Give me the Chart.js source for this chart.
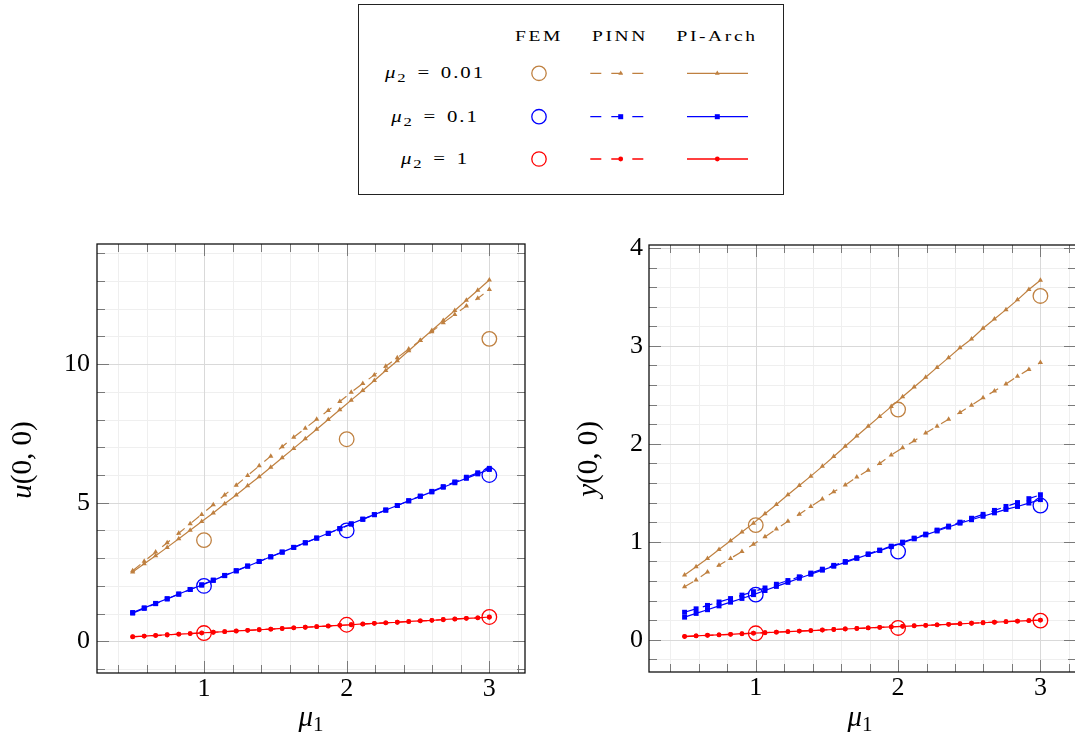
<!DOCTYPE html>
<html>
<head>
<meta charset="utf-8">
<script src="https://cdn.jsdelivr.net/npm/chart.js@4.4.1/dist/chart.umd.min.js"></script>
<style>
  html, body { margin: 0; padding: 0; background: #fff; }
  body { width: 1075px; height: 740px; overflow: hidden; position: relative; }
  canvas { position: absolute; }
  #cu { left: 0; top: 230px; }
  #cy { left: 555px; top: 230px; }
  #legend { position: absolute; left: 358px; top: 4px; width: 426px; height: 191px;
            box-sizing: border-box; border: 1px solid #222; background: #fff;
            font-family: 'Liberation Serif', serif; color: #000; }
  #legend svg { position: absolute; left: 0; top: 0; }
  .t { position: absolute; white-space: nowrap; line-height: 1;
       transform: translate(-50%, -50%) scaleX(1.3); }
  .hd { font-size: 15px; letter-spacing: 2px; }
  .row { font-size: 16px; letter-spacing: 1.5px; word-spacing: 2px; }
  .row i { font-style: italic; }
  .row sub { font-size: 80%; vertical-align: -0.3em; line-height: 0; }
</style>
</head>
<body>
<div id="legend">
  <svg width="424" height="189" viewBox="0 0 424 189">
    <!-- FEM -->
    <circle cx="180" cy="68.3" r="7.2" fill="none" stroke="#bf8040" stroke-width="1.3"/>
    <circle cx="180" cy="111.7" r="7.2" fill="none" stroke="#0000ff" stroke-width="1.3"/>
    <circle cx="180" cy="154" r="7.2" fill="none" stroke="#ff0000" stroke-width="1.3"/>
    <!-- PINN -->
    <line x1="231.3" y1="68.3" x2="284.7" y2="68.3" stroke="#bf8040" stroke-width="1.3" stroke-dasharray="11 10"/>
    <polygon points="261.7,65.5 264.1,69.7 259.3,69.7" fill="#bf8040"/>
    <line x1="231.3" y1="111.7" x2="284.7" y2="111.7" stroke="#0000ff" stroke-width="1.3" stroke-dasharray="11 10"/>
    <rect x="259.2" y="109.2" width="5" height="5" fill="#0000ff"/>
    <line x1="231.3" y1="154" x2="284.7" y2="154" stroke="#ff0000" stroke-width="1.3" stroke-dasharray="11 10"/>
    <circle cx="261.7" cy="154" r="2.4" fill="#ff0000"/>
    <!-- PI-Arch -->
    <line x1="328" y1="68.3" x2="389" y2="68.3" stroke="#bf8040" stroke-width="1.3"/>
    <polygon points="358.3,65.5 360.7,69.7 355.9,69.7" fill="#bf8040"/>
    <line x1="328" y1="111.7" x2="389" y2="111.7" stroke="#0000ff" stroke-width="1.3"/>
    <rect x="355.8" y="109.2" width="5" height="5" fill="#0000ff"/>
    <line x1="328" y1="154" x2="389" y2="154" stroke="#ff0000" stroke-width="1.3"/>
    <circle cx="358.3" cy="154" r="2.4" fill="#ff0000"/>
  </svg>
  <span class="t hd" style="left:180px; top:31px">FEM</span>
  <span class="t hd" style="left:260.7px; top:31px">PINN</span>
  <span class="t hd" style="left:358.3px; top:31px">PI-Arch</span>
  <span class="t row" style="left:75.5px; top:68.3px"><i>μ</i><sub>2</sub> = 0.01</span>
  <span class="t row" style="left:75.5px; top:111.7px"><i>μ</i><sub>2</sub> = 0.1</span>
  <span class="t row" style="left:75.5px; top:154px"><i>μ</i><sub>2</sub> = 1</span>
</div>

<canvas id="cu" width="545" height="510"></canvas>
<canvas id="cy" width="530" height="510"></canvas>

<script>
// ---- sample points in mu_1 ----
const MU1 = [0.5, 0.581, 0.661, 0.742, 0.823, 0.903, 0.984, 1.065, 1.145, 1.226, 1.306,
             1.387, 1.468, 1.548, 1.629, 1.710, 1.790, 1.871, 1.952, 2.032, 2.113, 2.194,
             2.274, 2.355, 2.435, 2.516, 2.597, 2.677, 2.758, 2.839, 2.919, 3.0];
const FEM_MU1 = [1, 2, 3];

// ---- u(0,0) ----
const U_FEM_001 = [3.65, 7.29, 10.91];
const U_FEM_01  = [2.00, 4.00, 6.00];
const U_FEM_1   = [0.30, 0.60, 0.88];
const U_PINN_001 = [2.55, 2.89, 3.22, 3.56, 3.90, 4.24, 4.58, 4.93, 5.28, 5.63, 5.98, 6.33,
                    6.68, 7.02, 7.36, 7.69, 8.01, 8.33, 8.65, 8.98, 9.30, 9.61, 9.92, 10.23,
                    10.54, 10.85, 11.17, 11.49, 11.79, 12.09, 12.37, 12.69];
const U_ARCH_001 = [2.50, 2.80, 3.09, 3.39, 3.70, 4.01, 4.32, 4.63, 4.96, 5.28, 5.61, 5.94,
                    6.28, 6.62, 6.96, 7.31, 7.65, 8.00, 8.35, 8.70, 9.05, 9.41, 9.77, 10.12,
                    10.48, 10.85, 11.21, 11.57, 11.93, 12.30, 12.66, 13.03];
const U_PINN_01 = [1.02, 1.19, 1.36, 1.53, 1.70, 1.87, 2.04, 2.21, 2.38, 2.55, 2.72, 2.88,
                   3.05, 3.22, 3.39, 3.55, 3.72, 3.89, 4.06, 4.23, 4.40, 4.57, 4.73, 4.90,
                   5.07, 5.24, 5.41, 5.58, 5.75, 5.92, 6.08, 6.24];
const U_ARCH_01 = [1.04, 1.21, 1.37, 1.54, 1.71, 1.87, 2.03, 2.20, 2.37, 2.54, 2.71, 2.88,
                   3.05, 3.22, 3.39, 3.56, 3.73, 3.90, 4.07, 4.24, 4.41, 4.57, 4.74, 4.90,
                   5.07, 5.23, 5.39, 5.56, 5.72, 5.88, 6.04, 6.20];
const U_PINN_1 = [0.16, 0.19, 0.21, 0.23, 0.26, 0.28, 0.30, 0.33, 0.35, 0.37, 0.40, 0.42,
                  0.44, 0.46, 0.49, 0.51, 0.53, 0.55, 0.58, 0.60, 0.62, 0.65, 0.67, 0.69,
                  0.71, 0.74, 0.76, 0.78, 0.80, 0.83, 0.85, 0.87];
const U_ARCH_1 = [0.17, 0.19, 0.22, 0.24, 0.26, 0.28, 0.31, 0.33, 0.35, 0.38, 0.40, 0.42,
                  0.44, 0.47, 0.49, 0.51, 0.53, 0.56, 0.58, 0.60, 0.63, 0.65, 0.67, 0.69,
                  0.72, 0.74, 0.76, 0.79, 0.81, 0.83, 0.85, 0.88];

// ---- y(0,0) ----
const Y_FEM_001 = [1.17, 2.35, 3.51];
const Y_FEM_01  = [0.46, 0.90, 1.37];
const Y_FEM_1   = [0.065, 0.12, 0.195];
const Y_PINN_001 = [0.54, 0.61, 0.69, 0.76, 0.83, 0.90, 0.975, 1.05, 1.13, 1.21, 1.28, 1.36,
                    1.436, 1.51, 1.58, 1.66, 1.73, 1.80, 1.885, 1.96, 2.03, 2.11, 2.18, 2.25,
                    2.32, 2.395, 2.47, 2.54, 2.61, 2.69, 2.76, 2.83];
const Y_ARCH_001 = [0.66, 0.745, 0.83, 0.92, 1.01, 1.10, 1.19, 1.285, 1.38, 1.48, 1.575, 1.67,
                    1.77, 1.87, 1.975, 2.08, 2.18, 2.28, 2.38, 2.48, 2.58, 2.68, 2.78, 2.88,
                    2.98, 3.07, 3.18, 3.275, 3.37, 3.47, 3.575, 3.67];
const Y_PINN_01 = [0.28, 0.315, 0.35, 0.385, 0.42, 0.455, 0.49, 0.528, 0.566, 0.604, 0.642, 0.68,
                   0.72, 0.759, 0.798, 0.837, 0.876, 0.915, 0.955, 0.996, 1.037, 1.078, 1.119, 1.16,
                   1.20, 1.24, 1.28, 1.32, 1.36, 1.40, 1.44, 1.48];
const Y_ARCH_01 = [0.23, 0.268, 0.306, 0.345, 0.383, 0.421, 0.46, 0.502, 0.544, 0.585, 0.627, 0.668,
                   0.71, 0.75, 0.79, 0.83, 0.87, 0.91, 0.95, 0.99, 1.03, 1.07, 1.11, 1.15,
                   1.19, 1.225, 1.26, 1.295, 1.33, 1.36, 1.395, 1.43];
const Y_PINN_1 = [0.032, 0.038, 0.044, 0.049, 0.055, 0.060, 0.066, 0.072, 0.077, 0.083, 0.088, 0.093,
                  0.099, 0.104, 0.110, 0.115, 0.120, 0.126, 0.131, 0.136, 0.142, 0.147, 0.152, 0.157,
                  0.163, 0.168, 0.173, 0.179, 0.184, 0.189, 0.194, 0.199];
const Y_ARCH_1 = [0.034, 0.039, 0.045, 0.050, 0.055, 0.061, 0.066, 0.071, 0.077, 0.082, 0.088, 0.093,
                  0.098, 0.104, 0.109, 0.114, 0.120, 0.125, 0.130, 0.136, 0.141, 0.146, 0.152, 0.157,
                  0.162, 0.168, 0.173, 0.178, 0.184, 0.189, 0.195, 0.200];

// ---- tick labels ----
const MU1_TICKS = [1, 2, 3];
const U_TICKS = [0, 5, 10];
const Y_TICKS = [0, 1, 2, 3, 4];

const BROWN = '#bf8040', BLUE = '#0000ff', RED = '#ff0000';
const FONT = "'Liberation Serif', serif";

function pts(xs, ys) { return xs.map((x, i) => ({ x: x, y: ys[i] })); }

function fem(ys, color) {
  return { data: pts(FEM_MU1, ys), showLine: false, pointStyle: 'circle', pointRadius: 7.3,
           pointBackgroundColor: 'rgba(0,0,0,0)', pointBorderColor: color, pointBorderWidth: 1.3,
           borderColor: color };
}
function curve(ys, color, style, radius, dashed) {
  return { data: pts(MU1, ys), borderColor: color, borderWidth: 1.2, borderDash: dashed ? [10, 9] : [],
           pointStyle: style, pointRadius: radius, pointBorderWidth: 0, pointBackgroundColor: color,
           pointBorderColor: color, tension: 0, fill: false };
}

function steps(from, to, step, skip) {
  const out = [];
  for (let i = 0; from + i * step <= to + 1e-9; i++) {
    const v = +(from + i * step).toFixed(4);
    if (!skip.some(s => Math.abs(s - v) < 1e-6)) out.push(v);
  }
  return out;
}

// grid, inward ticks and frame in the pgfplots manner
const pgfAxes = {
  id: 'pgfAxes',
  beforeDatasetsDraw(chart, args, o) {
    const { ctx, chartArea: a } = chart;
    const sx = chart.scales.x, sy = chart.scales.y;
    const X = v => Math.round(sx.getPixelForValue(v)) + 0.5;
    const Y = v => Math.round(sy.getPixelForValue(v)) + 0.5;
    const seg = (x1, y1, x2, y2) => { ctx.beginPath(); ctx.moveTo(x1, y1); ctx.lineTo(x2, y2); ctx.stroke(); };
    ctx.save();
    ctx.lineWidth = 1;
    ctx.strokeStyle = '#efefef';
    o.xMinor.forEach(v => seg(X(v), a.top, X(v), a.bottom));
    o.yMinor.forEach(v => seg(a.left, Y(v), a.right, Y(v)));
    ctx.strokeStyle = '#d9d9d9';
    o.xMajor.forEach(v => seg(X(v), a.top, X(v), a.bottom));
    o.yMajor.forEach(v => seg(a.left, Y(v), a.right, Y(v)));
    ctx.strokeStyle = '#7a7a7a';
    const mi = 8, ma = 12;
    o.xMinor.forEach(v => { seg(X(v), a.top, X(v), a.top + mi); seg(X(v), a.bottom, X(v), a.bottom - mi); });
    o.yMinor.forEach(v => { seg(a.left, Y(v), a.left + mi, Y(v)); seg(a.right, Y(v), a.right - mi, Y(v)); });
    o.xMajor.forEach(v => { seg(X(v), a.top, X(v), a.top + ma); seg(X(v), a.bottom, X(v), a.bottom - ma); });
    o.yMajor.forEach(v => { seg(a.left, Y(v), a.left + ma, Y(v)); seg(a.right, Y(v), a.right - ma, Y(v)); });
    ctx.restore();
  },
  afterDatasetsDraw(chart) {
    const { ctx, chartArea: a } = chart;
    ctx.save();
    ctx.strokeStyle = '#111';
    ctx.lineWidth = 1.3;
    ctx.strokeRect(a.left, a.top, a.right - a.left, a.bottom - a.top);
    ctx.restore();
  }
};

// axis titles with italic math symbols
const mathTitles = {
  id: 'mathTitles',
  afterDraw(chart, args, o) {
    const ctx = chart.ctx;
    const big = 29;
    function run(parts, cx, baseY) {
      let w = 0;
      parts.forEach(p => { ctx.font = (p.it ? 'italic ' : '') + Math.round(big * (p.s || 1)) + 'px ' + FONT; p.w = ctx.measureText(p.t).width; w += p.w; });
      let x = cx - w / 2;
      parts.forEach(p => {
        ctx.font = (p.it ? 'italic ' : '') + Math.round(big * (p.s || 1)) + 'px ' + FONT;
        ctx.fillText(p.t, x, baseY + (p.dy || 0));
        x += p.w;
      });
    }
    ctx.save();
    ctx.fillStyle = '#000';
    ctx.textBaseline = 'alphabetic';
    ctx.textAlign = 'left';
    // vertical title
    ctx.save();
    ctx.translate(o.yx, o.yy);
    ctx.rotate(-Math.PI / 2);
    run([{ t: o.sym, it: true }, { t: '(0, 0)' }], 0, 0);
    ctx.restore();
    // horizontal title
    run([{ t: 'μ', it: true }, { t: '1', s: 0.74, dy: 5 }], o.xx, o.xy);
    ctx.restore();
  }
};

function makeChart(id, cfg) {
  const datasets = [
    fem(cfg.fem[0], BROWN), fem(cfg.fem[1], BLUE), fem(cfg.fem[2], RED),
    curve(cfg.arch[0], BROWN, 'triangle', 3, false),
    curve(cfg.pinn[0], BROWN, 'triangle', 3, true),
    curve(cfg.arch[1], BLUE, 'rect', 3.5, false),
    curve(cfg.pinn[1], BLUE, 'rect', 3.5, true),
    curve(cfg.arch[2], RED, 'circle', 2.4, false),
    curve(cfg.pinn[2], RED, 'circle', 2.4, true)
  ];
  return new Chart(document.getElementById(id), {
    type: 'line',
    data: { datasets },
    options: {
      responsive: false, animation: false, devicePixelRatio: 1,
      layout: { padding: { left: 0, top: cfg.padTop, right: cfg.padRight, bottom: 0 } },
      scales: {
        x: {
          type: 'linear', min: 0.25, max: 3.25,
          afterBuildTicks: s => { s.ticks = MU1_TICKS.map(v => ({ value: v })); },
          afterFit: s => { s.height = cfg.xAxisH; s.paddingLeft = 0; s.paddingRight = 0; },
          grid: { display: false, drawTicks: false }, border: { display: false },
          ticks: { color: '#000', font: { family: FONT, size: 26 }, padding: 1, maxRotation: 0, autoSkip: false,
                   callback: v => String(v) }
        },
        y: {
          type: 'linear', min: cfg.yMin, max: cfg.yMax,
          afterBuildTicks: s => { s.ticks = cfg.yTicks.map(v => ({ value: v })); },
          afterFit: s => { s.width = cfg.yAxisW; s.paddingTop = 0; s.paddingBottom = 0; },
          grid: { display: false, drawTicks: false }, border: { display: false },
          ticks: { color: '#000', font: { family: FONT, size: 26 }, padding: cfg.yPad, autoSkip: false,
                   callback: v => String(v) }
        }
      },
      plugins: {
        legend: { display: false }, tooltip: { enabled: false },
        pgfAxes: { xMinor: steps(0.4, 3.2, 0.2, MU1_TICKS), xMajor: MU1_TICKS,
                   yMinor: cfg.yMinor, yMajor: cfg.yTicks },
        mathTitles: cfg.titles
      }
    },
    plugins: [pgfAxes, mathTitles]
  });
}

makeChart('cu', {
  fem: [U_FEM_001, U_FEM_01, U_FEM_1],
  arch: [U_ARCH_001, U_ARCH_01, U_ARCH_1],
  pinn: [U_PINN_001, U_PINN_01, U_PINN_1],
  yMin: -1.14, yMax: 14.33, yTicks: U_TICKS, yMinor: steps(-1, 14, 1, U_TICKS),
  padTop: 14, padRight: 20, xAxisH: 67, yAxisW: 97, yPad: 7,
  titles: { sym: 'u', yx: 31, yy: 230, xx: 311, xy: 496 }
});

makeChart('cy', {
  fem: [Y_FEM_001, Y_FEM_01, Y_FEM_1],
  arch: [Y_ARCH_001, Y_ARCH_01, Y_ARCH_1],
  pinn: [Y_PINN_001, Y_PINN_01, Y_PINN_1],
  yMin: -0.33, yMax: 4.03, yTicks: Y_TICKS, yMinor: steps(-0.2, 4.0, 0.2, Y_TICKS),
  padTop: 15, padRight: 9, xAxisH: 68, yAxisW: 94, yPad: 6,
  titles: { sym: 'y', yx: 42, yy: 229, xx: 305, xy: 496 }
});
</script>
</body>
</html>
